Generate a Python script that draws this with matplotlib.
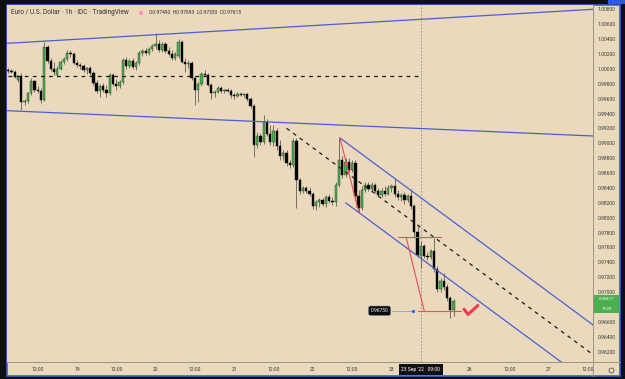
import matplotlib.pyplot as plt
from matplotlib.patches import Rectangle
from matplotlib.lines import Line2D
from matplotlib.transforms import blended_transform_factory, Bbox, TransformedBbox

# EUR/USD 1h, bar index = hours since Sun 18 Sep 00:00 (weekend removed)
first_bar = 3

opens = [0.9998, 0.9997, 0.9996, 0.9985, 0.9990, 0.9956, 0.9957, 0.9968, 0.9984, 0.9972,
         0.9970, 0.9958, 1.0029, 1.0011, 1.0000, 0.9992, 1.0000, 1.0009, 1.0013, 1.0021,
         1.0020, 1.0008, 1.0005, 1.0004, 0.9998, 1.0001, 0.9994, 0.9981, 0.9970, 0.9977,
         0.9972, 0.9968, 0.9992, 0.9980, 0.9977, 0.9982, 1.0012, 1.0004, 1.0011, 1.0003,
         1.0008, 1.0021, 1.0024, 1.0021, 1.0027, 1.0031, 1.0033, 1.0025, 1.0033, 1.0024,
         1.0020, 1.0015, 1.0017, 1.0036, 1.0009, 1.0007, 1.0008, 0.9988, 0.9972, 0.9980,
         0.9993, 0.9992, 0.9978, 0.9968, 0.9969, 0.9974, 0.9970, 0.9972, 0.9970, 0.9965,
         0.9964, 0.9966, 0.9965, 0.9966, 0.9960, 0.9950, 0.9898, 0.9910, 0.9902, 0.9929,
         0.9912, 0.9902, 0.9917, 0.9896, 0.9883, 0.9887, 0.9874, 0.9871, 0.9903, 0.9851,
         0.9836, 0.9840, 0.9836, 0.9832, 0.9816, 0.9821, 0.9824, 0.9818, 0.9828, 0.9822,
         0.9821, 0.9844, 0.9878, 0.9857, 0.9875, 0.9864, 0.9874, 0.9829, 0.9813, 0.9837,
         0.9844, 0.9839, 0.9844, 0.9836, 0.9831, 0.9836, 0.9832, 0.9840, 0.9843, 0.9832,
         0.9828, 0.9831, 0.9824, 0.9829, 0.9816, 0.9781, 0.97490, 0.9762, 0.9749, 0.9747,
         0.9755, 0.9731, 0.9704, 0.9715, 0.9707, 0.9692, 0.9676]

highs = [1.0001, 1.0000, 0.9998, 0.9992, 0.9994, 0.9960, 0.9969, 0.9988, 0.9985, 0.9977,
         0.9974, 1.0036, 1.0032, 1.0015, 1.0009, 1.0004, 1.0012, 1.0016, 1.0025, 1.0025,
         1.0023, 1.0012, 1.0008, 1.0007, 1.0003, 1.0004, 0.9997, 0.9985, 0.9980, 0.9981,
         0.9978, 0.9994, 0.9994, 0.9986, 0.9985, 1.0015, 1.0016, 1.0013, 1.0015, 1.0011,
         1.0024, 1.0027, 1.0028, 1.0029, 1.0033, 1.0048, 1.0039, 1.0036, 1.0036, 1.0029,
         1.0025, 1.0023, 1.0040, 1.0039, 1.0015, 1.0012, 1.0011, 0.9990, 0.9982, 0.9996,
         0.9998, 0.9994, 0.9981, 0.9972, 0.9977, 0.9977, 0.9973, 0.9974, 0.9973, 0.9968,
         0.9969, 0.9969, 0.9968, 0.9968, 0.9962, 0.9953, 0.9915, 0.9914, 0.9938, 0.9933,
         0.9925, 0.9925, 0.9921, 0.9904, 0.9891, 0.9891, 0.9878, 0.9907, 0.9907, 0.9853,
         0.9843, 0.9843, 0.9841, 0.9835, 0.9824, 0.9827, 0.9827, 0.9831, 0.9832, 0.9828,
         0.9848, 0.9907, 0.9883, 0.9880, 0.9880, 0.9878, 0.9878, 0.9837, 0.9843, 0.9848,
         0.9848, 0.9848, 0.9846, 0.9840, 0.9840, 0.9843, 0.9844, 0.9845, 0.9853, 0.9837,
         0.9833, 0.9835, 0.9832, 0.9839, 0.9818, 0.9789, 0.97693, 0.9765, 0.9754, 0.9758,
         0.9773, 0.9735, 0.9719, 0.9726, 0.9711, 0.9695, 0.9691]

lows = [0.9994, 0.9994, 0.9988, 0.9982, 0.9945, 0.9951, 0.9954, 0.9965, 0.9969, 0.9968,
        0.9954, 0.9957, 1.0008, 0.9997, 0.9992, 0.9989, 0.9998, 1.0007, 1.0011, 1.0016,
        1.0007, 1.0003, 1.0000, 0.9996, 0.9993, 0.9992, 0.9978, 0.9968, 0.9962, 0.9969,
        0.9962, 0.9965, 0.9977, 0.9972, 0.9974, 0.9980, 1.0000, 1.0001, 1.0000, 0.9998,
        1.0005, 1.0017, 1.0019, 1.0019, 1.0024, 1.0027, 1.0023, 1.0023, 1.0021, 1.0017,
        1.0012, 1.0012, 1.0015, 1.0008, 0.9996, 1.0001, 0.9985, 0.9951, 0.9956, 0.9977,
        0.9990, 0.9977, 0.9960, 0.9962, 0.9968, 0.9968, 0.9968, 0.9969, 0.9961, 0.9960,
        0.9962, 0.9964, 0.9962, 0.9957, 0.9947, 0.9882, 0.9894, 0.9898, 0.9899, 0.9910,
        0.9898, 0.9896, 0.9891, 0.9878, 0.9878, 0.9870, 0.9867, 0.9868, 0.9813, 0.9832,
        0.9833, 0.9833, 0.9829, 0.9812, 0.9810, 0.9814, 0.9816, 0.9814, 0.9820, 0.9817,
        0.9816, 0.9841, 0.9853, 0.9855, 0.9861, 0.9861, 0.9824, 0.9808, 0.9810, 0.9835,
        0.9836, 0.9835, 0.9833, 0.9829, 0.9828, 0.9829, 0.9831, 0.9835, 0.9828, 0.9824,
        0.9822, 0.9818, 0.9821, 0.9812, 0.9773, 0.9747, 0.97330, 0.9746, 0.9743, 0.9745,
        0.9727, 0.9700, 0.9700, 0.9703, 0.9688, 0.9665, 0.9668]

closes = [0.9997, 0.9996, 0.9989, 0.9990, 0.9956, 0.9957, 0.9968, 0.9984, 0.9972, 0.9970,
          0.9958, 1.0029, 1.0011, 1.0000, 0.9996, 1.0000, 1.0009, 1.0013, 1.0021, 1.0020,
          1.0008, 1.0005, 1.0004, 0.9998, 1.0001, 0.9994, 0.9981, 0.9970, 0.9977, 0.9972,
          0.9968, 0.9992, 0.9980, 0.9977, 0.9982, 1.0012, 1.0004, 1.0011, 1.0003, 1.0008,
          1.0021, 1.0024, 1.0021, 1.0027, 1.0031, 1.0033, 1.0025, 1.0033, 1.0024, 1.0020,
          1.0015, 1.0020, 1.0036, 1.0009, 1.0007, 1.0008, 0.9988, 0.9972, 0.9980, 0.9993,
          0.9992, 0.9978, 0.9968, 0.9969, 0.9974, 0.9970, 0.9972, 0.9970, 0.9965, 0.9964,
          0.9966, 0.9965, 0.9966, 0.9960, 0.9950, 0.9898, 0.9910, 0.9902, 0.9929, 0.9912,
          0.9902, 0.9917, 0.9896, 0.9883, 0.9887, 0.9874, 0.9871, 0.9903, 0.9851, 0.9836,
          0.9840, 0.9836, 0.9832, 0.9816, 0.9821, 0.9824, 0.9818, 0.9828, 0.9822, 0.9821,
          0.9844, 0.9878, 0.9857, 0.9875, 0.9864, 0.9874, 0.9829, 0.9813, 0.9837, 0.9844,
          0.9839, 0.9844, 0.9836, 0.9831, 0.9836, 0.9832, 0.9840, 0.9843, 0.9832, 0.9828,
          0.9831, 0.9824, 0.9829, 0.9816, 0.9781, 0.9750, 0.97615, 0.9749, 0.9747, 0.9755,
          0.9731, 0.9704, 0.9715, 0.9707, 0.9692, 0.9676, 0.96877]

tick_pos = [12, 24, 36, 48, 60, 72, 84, 96, 108, 120, 144, 156, 168, 180]
tick_txt = ['12:00', '19', '12:00', '20', '12:00', '21', '12:00', '22', '12:00', '23',
            '26', '12:00', '27', '12:00']
# 0.96800 sits under the last-price tag, so the scale leaves it out
price_ticks = [0.962, 0.964, 0.966, 0.970, 0.972, 0.974, 0.976, 0.978, 0.980, 0.982,
               0.984, 0.986, 0.988, 0.990, 0.992, 0.994, 0.996, 0.998, 1.000, 1.002,
               1.004, 1.006, 1.008]

# drawings: (bar, price) end points
top_line = [(2.6, 1.00343), (181.6, 1.00800)]
low_line = [(2.6, 0.99438), (181.6, 0.99098)]
chan_upper = [(104.3, 0.99071), (181.6, 0.96558)]
chan_lower = [(106.1, 0.98198), (181.6, 0.95744)]
chan_mid = [(88.0, 0.99201), (181.6, 0.96159)]
flat_level = 0.9991
red_leg1 = [(104.3, 0.99071), (110.0, 0.98081)]
red_top = [(122.1, 0.97737), (135.1, 0.97737)]
red_leg2 = [(124.5, 0.97737), (130.0, 0.96750)]
red_bottom = [(128.1, 0.96750), (141.2, 0.96750)]
target = 0.96750
check_x = [142.2, 143.4, 146.4]
check_y = [0.9677, 0.9670, 0.9682]
cross_bar = 129
last_price = 0.96877

BG = '#ead9bc'
W, H = 625, 379

fig = plt.figure(figsize=(6.25, 3.79), dpi=100, facecolor='#0f1013')
fig.patches.append(Rectangle((7 / W, 1 - 376 / H), 613 / W, 371 / H, transform=fig.transFigure,
                             facecolor=BG, edgecolor='#3a5fd8', lw=1.2, zorder=-2))
fig.patches.append(Rectangle((608 / W, 1 - 4 / H), 17 / W, 4 / H, transform=fig.transFigure,
                             facecolor='#2f5bd6', lw=0, zorder=-2))

ax = fig.add_axes([7 / W, 1 - 362 / H, 586 / W, 357 / H], facecolor=BG)
for s in ax.spines.values():
    s.set_visible(False)

# candles
for k in range(len(closes)):
    x = first_bar + k
    o, h, l, c = opens[k], highs[k], lows[k], closes[k]
    up = c >= o
    ax.vlines(x, l, h, color='#55514a', lw=0.55, zorder=2)
    body = max(abs(c - o), 0.00005)
    ax.bar(x, body, bottom=min(o, c), width=0.7,
           color='#4caf50' if up else '#050505',
           edgecolor='#1d3a1f' if up else '#050505', lw=0.3, zorder=2)

blue = '#4a5fd3'
for seg in [top_line, low_line, chan_upper, chan_lower]:
    ax.plot([p[0] for p in seg], [p[1] for p in seg], color=blue, lw=0.9, zorder=3)
ax.plot([p[0] for p in chan_mid], [p[1] for p in chan_mid], color='#1a1a1a', lw=0.9,
        ls=(0, (3, 3.5)), zorder=3)
ax.hlines(flat_level, 2.9, 128.7, color='#1a1a1a', lw=0.9, ls=(0, (3, 3.5)), zorder=3)

red = '#f04a5c'
for seg in [red_leg1, red_top, red_leg2, red_bottom]:
    ax.plot([p[0] for p in seg], [p[1] for p in seg], color=red, lw=0.8, zorder=4)

ax.axvline(cross_bar, color='#8c8a86', lw=0.6, ls=(0, (2, 2)), zorder=1)

# target label
ax.plot([120.2, 126.6], [target, target], color='#8fa3c4', lw=0.6, zorder=4)
ax.plot([126.6], [target], 'o', color='#2962ff', ms=1.3, zorder=5)
ax.text(116.4, target, '%.5f' % target, color='white', fontsize=3.5, ha='center', va='center',
        family='Roboto', zorder=6,
        bbox=dict(boxstyle='round,pad=0.45,rounding_size=0.4', fc='#0a0a0a', ec='#6f7fa0', lw=0.4))
ax.plot(check_x, check_y, color='#ee3a4e', lw=2.2, solid_capstyle='round',
        solid_joinstyle='round', zorder=6)

ax.set_xlim(2.63, 181.56)
ax.set_ylim(0.96061, 1.00858)

ax.yaxis.tick_right()
ax.set_yticks(price_ticks)
ax.set_yticklabels(['%.5f' % p for p in price_ticks])
ax.set_xticks(tick_pos)
ax.set_xticklabels(tick_txt)
ax.tick_params(axis='both', length=0, labelsize=3.6, labelcolor='#3a3a3a')
ax.tick_params(axis='y', pad=3.2)
ax.tick_params(axis='x', pad=3.6)
time_clip = TransformedBbox(Bbox([[7 / W, 0], [593 / W, 1]]), fig.transFigure)
for t in ax.get_xticklabels():
    t.set_family('Roboto')
    t.set_clip_box(time_clip)
    t.set_clip_on(True)
for t in ax.get_yticklabels():
    t.set_family('Roboto')

# separators between plot and scales
fig.add_artist(Line2D([593 / W, 593 / W], [1 - 376 / H, 1 - 5 / H], transform=fig.transFigure,
                      color='#9c9484', lw=0.7))
fig.add_artist(Line2D([7 / W, 620 / W], [1 - 362 / H, 1 - 362 / H], transform=fig.transFigure,
                      color='#9c9484', lw=0.7))

# last price tag
tr = blended_transform_factory(ax.transAxes, ax.transData)
ax.add_patch(Rectangle((1.0, 0.96725), 27 / 586, 0.00235, transform=tr, facecolor='#4caf50',
                       lw=0, clip_on=False, zorder=6))
ax.text(1.0 + 13.5 / 586, 0.96908, '%.5f' % last_price, transform=tr,
        color='white', fontsize=3.0, ha='center', va='center', family='Roboto', zorder=7)
ax.text(1.0 + 13.5 / 586, 0.96775, '19:29', transform=tr,
        color='white', fontsize=3.0, ha='center', va='center', family='Roboto', zorder=7)

# crosshair time tag
trx = blended_transform_factory(ax.transData, ax.transAxes)
ax.text(cross_bar, -0.0215, "23 Sep '22   09:00", transform=trx, color='white', fontsize=3.6,
        ha='center', va='center', family='Roboto', zorder=7,
        bbox=dict(boxstyle='square,pad=0.55', fc='#111111', ec='none'))

# gear icon
fig.add_artist(Line2D([611 / W], [1 - 369.5 / H], transform=fig.transFigure, marker='o',
                      ms=3.6, mfc='none', mec='#555555', mew=0.6))

fig.text(11 / W, 1 - 13 / H, 'Euro / U.S. Dollar \u00b7 1h \u00b7 IDC \u00b7 TradingView',
         fontsize=4.7, color='#333333', va='center', family='Roboto')
fig.patches.append(Rectangle((139 / W, 1 - 15 / H), 4 / W, 4 / H, transform=fig.transFigure,
                             facecolor='#f7a0b4', lw=0))
fig.text(149 / W, 1 - 13 / H, 'O0.97490  H0.97693  L0.97330  C0.97615',
         fontsize=3.6, color='#333333', va='center', family='Roboto')

fig.savefig('out.png', dpi=100, facecolor=fig.get_facecolor())
